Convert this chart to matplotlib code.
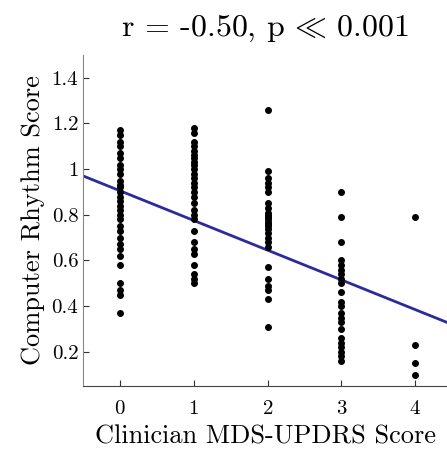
import numpy as np
import matplotlib
matplotlib.use('Agg')
import matplotlib.pyplot as plt

plt.rcParams['font.family'] = ['cmr10', 'DejaVu Serif']
plt.rcParams['mathtext.fontset'] = 'cm'
plt.rcParams['axes.formatter.use_mathtext'] = True

# clinician scores and the computer rhythm scores
score0 = [1.17, 1.15, 1.12, 1.10, 1.07, 1.05, 1.02, 1.0, 0.98, 0.95, 0.93, 0.92, 0.90,
          0.88, 0.86, 0.84, 0.82, 0.80, 0.78, 0.75, 0.73, 0.70, 0.67, 0.65, 0.62,
          0.58, 0.50, 0.47, 0.45, 0.37]
score1 = [1.18, 1.16, 1.12, 1.10, 1.08, 1.06, 1.05, 1.03, 1.02, 1.0, 0.98, 0.96, 0.94,
          0.92, 0.90, 0.88, 0.85, 0.82, 0.80, 0.78, 0.73, 0.68, 0.65, 0.63, 0.58,
          0.54, 0.52, 0.50]
score2 = [1.26, 0.99, 0.96, 0.94, 0.92, 0.90, 0.85, 0.83, 0.81, 0.80, 0.79, 0.78, 0.77,
          0.76, 0.75, 0.74, 0.72, 0.70, 0.68, 0.66, 0.57, 0.52, 0.49, 0.47, 0.43, 0.31]
score3 = [0.90, 0.79, 0.68, 0.60, 0.58, 0.56, 0.54, 0.52, 0.50, 0.46, 0.42, 0.40, 0.37,
          0.35, 0.33, 0.30, 0.26, 0.24, 0.22, 0.20, 0.18, 0.16]
score4 = [0.79, 0.23, 0.15, 0.10]
groups = [score0, score1, score2, score3, score4]

# fitted line
fit_intercept = 0.905
fit_slope = -0.13

yticks = [0.2, 0.4, 0.6, 0.8, 1.0, 1.2, 1.4]
ytick_labels = ['0.2', '0.4', '0.6', '0.8', '1', '1.2', '1.4']

fig = plt.figure(figsize=(4.47, 4.57), dpi=100)
ax = fig.add_axes([0.186, 0.155, 0.814, 0.725])

for k, g in enumerate(groups):
    ax.plot(np.full(len(g), k), g, 'o', color='black', ms=4.0, mec='black', zorder=3)

xx = np.array([-0.5, 4.5])
ax.plot(xx, fit_intercept + fit_slope * xx, color='#2b2b9c', lw=2, zorder=2)

ax.set_xlim(-0.5, 4.43)
ax.set_ylim(0.05, 1.5)
ax.set_xticks(range(5))
ax.set_yticks(yticks)
ax.set_yticklabels(ytick_labels)
ax.tick_params(direction='in', length=4, labelsize=15, color='#333333')
ax.tick_params(axis='x', pad=10)
for s in ['top', 'right']:
    ax.spines[s].set_visible(False)
ax.spines['left'].set_color('#888888')
ax.spines['bottom'].set_color('#444444')

ax.set_xlabel('Clinician MDS-UPDRS Score', fontsize=19, labelpad=5)
ax.set_ylabel('Computer Rhythm Score', fontsize=19, labelpad=5)
ax.set_title(r'r = -0.50, p$\,\ll\,$0.001', fontsize=23, pad=14)

fig.savefig('out.png', dpi=100)
